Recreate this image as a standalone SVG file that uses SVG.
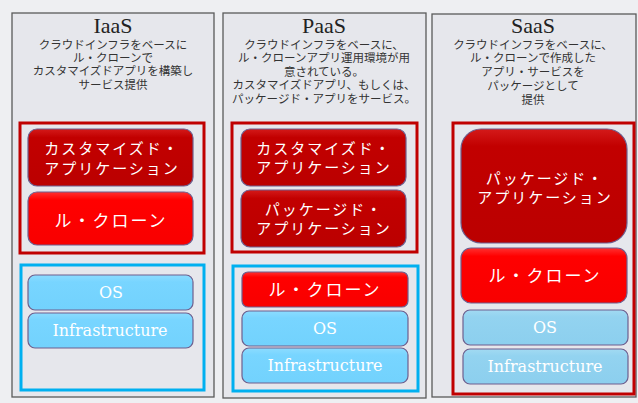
<svg xmlns="http://www.w3.org/2000/svg" width="638" height="403" viewBox="0 0 638 403">
<defs>
<linearGradient id="gDark" x1="0" y1="0" x2="0" y2="1"><stop offset="0" stop-color="#d41a1a"/><stop offset="0.15" stop-color="#c20000"/><stop offset="1" stop-color="#bb0000"/></linearGradient>
<linearGradient id="gRed" x1="0" y1="0" x2="0" y2="1"><stop offset="0" stop-color="#ff3030"/><stop offset="0.15" stop-color="#ff0000"/><stop offset="1" stop-color="#f80000"/></linearGradient>
<linearGradient id="gBlue" x1="0" y1="0" x2="0" y2="1"><stop offset="0" stop-color="#8cdcff"/><stop offset="0.2" stop-color="#78d5ff"/><stop offset="1" stop-color="#72d2fd"/></linearGradient>
<linearGradient id="gBlue2" x1="0" y1="0" x2="0" y2="1"><stop offset="0" stop-color="#a2daf2"/><stop offset="0.2" stop-color="#93d3f0"/><stop offset="1" stop-color="#8ccfee"/></linearGradient>
</defs>
<style>
.panel{fill:#e6e7ec;stroke:#5a5a5a;stroke-width:1.3}
.title{font-family:"Liberation Serif","DejaVu Serif",serif;font-size:22px;fill:#222;text-anchor:middle}
.desc{font-family:"Liberation Sans","Noto Sans CJK JP",sans-serif;font-size:11.5px;fill:#333;text-anchor:middle}
.rframe{fill:none;stroke:#c00000;stroke-width:3}
.bframe{fill:none;stroke:#00b0f0;stroke-width:3}
.box{stroke:#6e5f8e;stroke-width:1.2}
.dark{fill:url(#gDark)}
.red{fill:url(#gRed)}
.blue{fill:url(#gBlue)}
.blue2{fill:url(#gBlue2)}
.jp{font-family:"Liberation Sans","Noto Sans CJK JP",sans-serif;font-size:15px;letter-spacing:2px;fill:#fff;text-anchor:middle}
.jpl{font-family:"Liberation Sans","Noto Sans CJK JP",sans-serif;font-size:17px;letter-spacing:2px;fill:#fff;text-anchor:middle}
.en{font-family:"DejaVu Serif",serif;font-size:16px;fill:#fff;text-anchor:middle}
</style>
<rect x="0" y="0" width="638" height="403" fill="#eeeff2"/>

<g id="iaas">
<rect class="panel" x="12" y="13" width="202" height="384"/>
<text class="title" x="113" y="32.5">IaaS</text>
<text class="desc"><tspan x="113" y="49">クラウドインフラをベースに</tspan><tspan x="113" y="62.2">ル・クローンで</tspan><tspan x="113" y="75.4">カスタマイズドアプリを構築し</tspan><tspan x="113" y="88.6">サービス提供</tspan></text>
<rect class="rframe" x="20" y="123" width="184" height="130"/>
<rect class="box dark" x="28" y="129" width="165" height="57" rx="9"/>
<text class="jp"><tspan x="112" y="154">カスタマイズド・</tspan><tspan x="112" y="174">アプリケーション</tspan></text>
<rect class="box red" x="28" y="192" width="165" height="53" rx="9"/>
<text class="jpl" x="111" y="227">ル・クローン</text>
<rect class="bframe" x="21" y="265" width="183" height="125"/>
<rect class="box blue" x="28" y="275" width="165" height="35" rx="7"/>
<text class="en" x="111" y="298">OS</text>
<rect class="box blue" x="28" y="313" width="165" height="35" rx="7"/>
<text class="en" x="110" y="336">Infrastructure</text>
</g>

<g id="paas">
<rect class="panel" x="223" y="13" width="203" height="385"/>
<text class="title" x="324" y="32.5">PaaS</text>
<text class="desc"><tspan x="324" y="48.5">クラウドインフラをベースに、</tspan><tspan x="324" y="62">ル・クローンアプリ運用環境が用</tspan><tspan x="324" y="75.5">意されている。</tspan><tspan x="324" y="89">カスタマイズドアプリ、もしくは、</tspan><tspan x="324" y="102.5">パッケージド・アプリをサービス。</tspan></text>
<rect class="rframe" x="232" y="123" width="185" height="129"/>
<rect class="box dark" x="241" y="129" width="165" height="57" rx="9"/>
<text class="jp"><tspan x="324" y="154">カスタマイズド・</tspan><tspan x="324" y="173">アプリケーション</tspan></text>
<rect class="box dark" x="241" y="190" width="165" height="57" rx="9"/>
<text class="jp"><tspan x="324" y="215">パッケージド・</tspan><tspan x="324" y="234">アプリケーション</tspan></text>
<rect class="bframe" x="233" y="266" width="185" height="125"/>
<rect class="box red" x="242" y="272" width="166" height="35" rx="6"/>
<text class="jpl" x="325" y="296">ル・クローン</text>
<rect class="box blue" x="242" y="311" width="166" height="35" rx="7"/>
<text class="en" x="325" y="334">OS</text>
<rect class="box blue" x="242" y="348" width="166" height="35" rx="7"/>
<text class="en" x="325" y="371">Infrastructure</text>
</g>

<g id="saas">
<rect class="panel" x="432" y="14" width="204" height="383"/>
<text class="title" x="533" y="32.5">SaaS</text>
<text class="desc"><tspan x="533" y="48.5">クラウドインフラをベースに、</tspan><tspan x="533" y="62.4">ル・クローンで作成した</tspan><tspan x="533" y="76.3">アプリ・サービスを</tspan><tspan x="533" y="90.2">パッケージとして</tspan><tspan x="533" y="104.1">提供</tspan></text>
<rect class="rframe" x="453" y="123" width="181" height="271"/>
<rect class="box dark" x="461" y="129" width="166" height="114" rx="20"/>
<text class="jp"><tspan x="545" y="184">パッケージド・</tspan><tspan x="545" y="203">アプリケーション</tspan></text>
<rect class="box red" x="461" y="248" width="166" height="55" rx="10"/>
<text class="jpl" x="545" y="282">ル・クローン</text>
<rect class="box blue2" x="463" y="310" width="165" height="35" rx="7"/>
<text class="en" x="545" y="333">OS</text>
<rect class="box blue2" x="463" y="349" width="165" height="35" rx="7"/>
<text class="en" x="545" y="372">Infrastructure</text>
</g>
</svg>
